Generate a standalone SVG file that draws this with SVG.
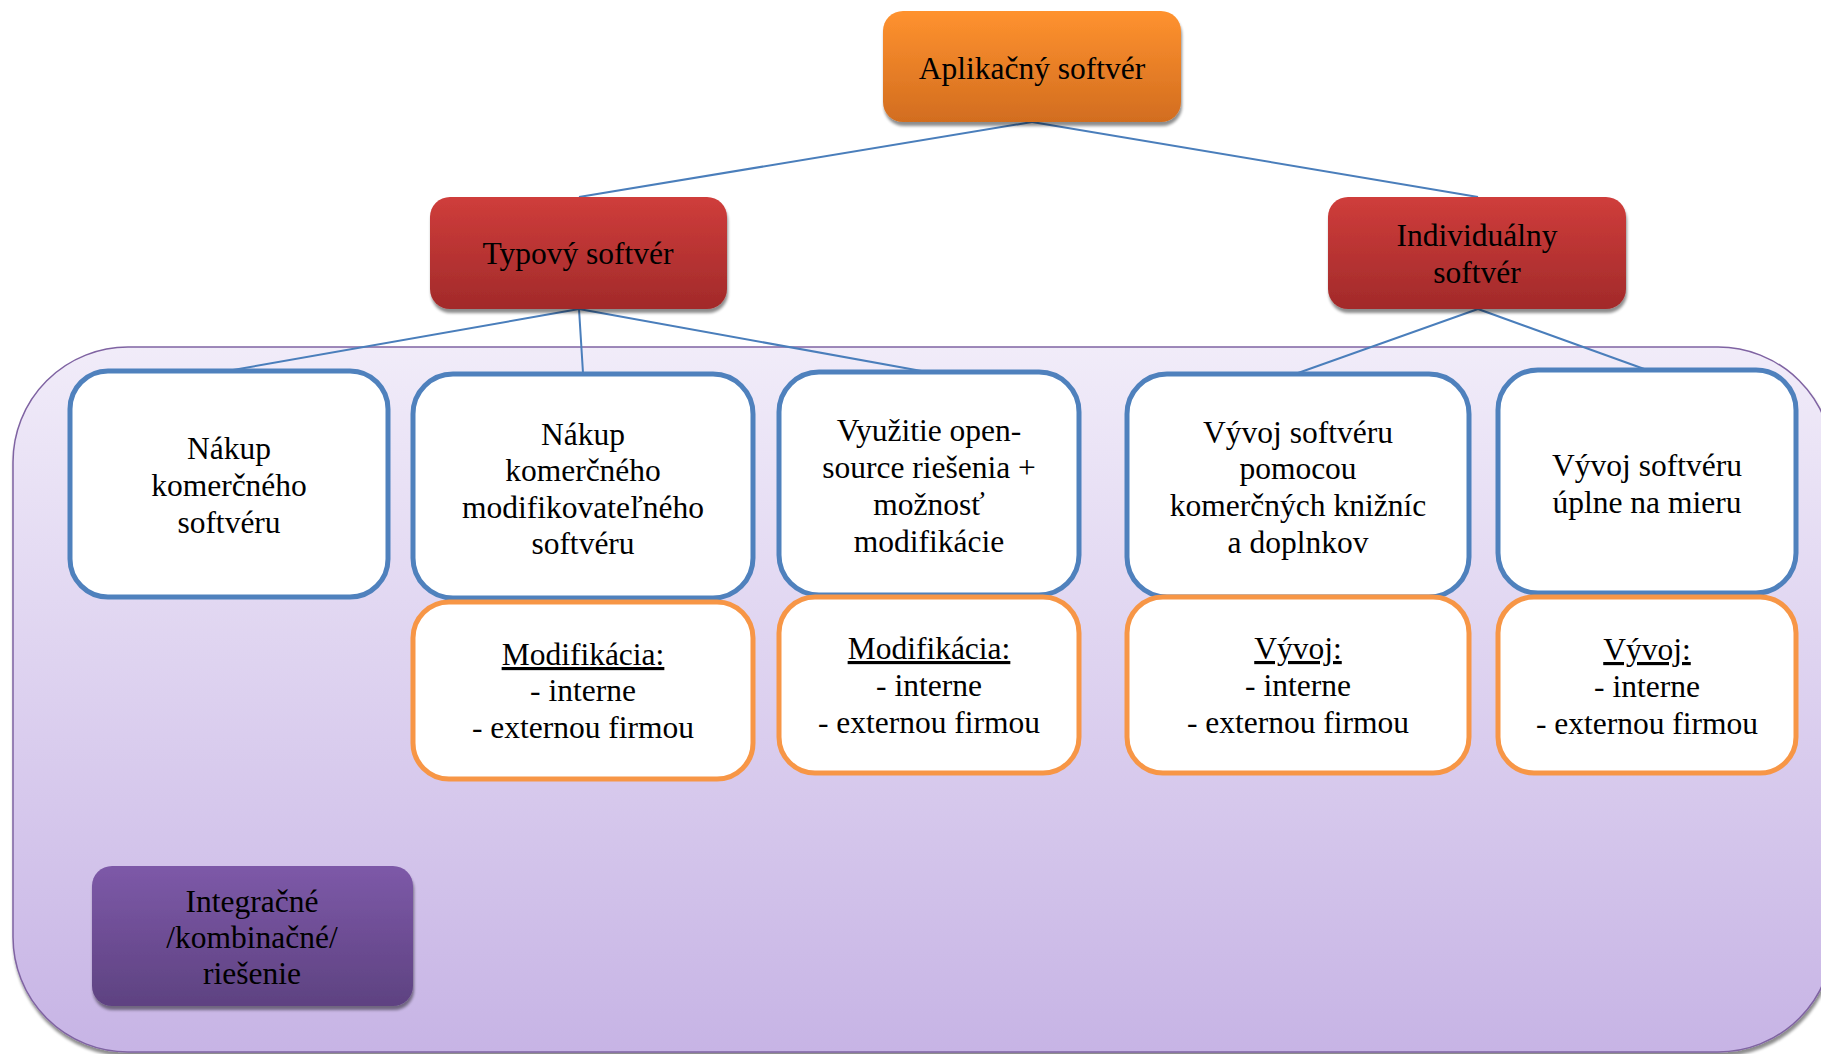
<svg xmlns="http://www.w3.org/2000/svg" width="1821" height="1054" viewBox="0 0 1821 1054">
  <defs>
    <linearGradient id="gOrange" x1="0" y1="0" x2="0" y2="1">
      <stop offset="0" stop-color="#ff922f"/>
      <stop offset="1" stop-color="#d26d1f"/>
    </linearGradient>
    <linearGradient id="gRed" x1="0" y1="0" x2="0" y2="1">
      <stop offset="0" stop-color="#cf3d3b"/>
      <stop offset="1" stop-color="#a22a2a"/>
    </linearGradient>
    <linearGradient id="gPurple" x1="0" y1="0" x2="0" y2="1">
      <stop offset="0" stop-color="#7d59a8"/>
      <stop offset="1" stop-color="#5e4281"/>
    </linearGradient>
    <linearGradient id="gPanel" x1="0" y1="0" x2="0" y2="1">
      <stop offset="0" stop-color="#f1ecf9"/>
      <stop offset="1" stop-color="#c7b4e5"/>
    </linearGradient>
    <filter id="shadow" x="-10%" y="-10%" width="120%" height="130%">
      <feGaussianBlur in="SourceAlpha" stdDeviation="1.5"/>
      <feOffset dx="1" dy="4" result="off"/>
      <feComponentTransfer><feFuncA type="linear" slope="0.45"/></feComponentTransfer>
      <feMerge><feMergeNode/><feMergeNode in="SourceGraphic"/></feMerge>
    </filter>
  </defs>
  <style>
    text { font-family: "Liberation Serif", "Times New Roman", serif; font-size: 31.5px; fill: #000; text-anchor: middle; }
    .blue { fill: #fff; stroke: #4f81bd; stroke-width: 5; }
    .orange { fill: #fff; stroke: #f79646; stroke-width: 5; }
    .conn { stroke: #4a7ebb; stroke-width: 2; fill: none; }
    .u { text-decoration: underline; }
  </style>

  <rect width="1821" height="1054" fill="#fff"/>

  <!-- background panel grouping the solution variants -->
  <g id="panel">
    <rect x="13" y="347" width="1820" height="705" rx="115" ry="115" fill="url(#gPanel)" stroke="#7f63a2" stroke-width="1.5" filter="url(#shadow)"/>
  </g>

  <!-- connectors -->
  <g id="connectors">
    <line class="conn" x1="1032" y1="122" x2="579" y2="197"/>
    <line class="conn" x1="1032" y1="122" x2="1478" y2="197"/>
    <line class="conn" x1="579" y1="309" x2="233" y2="370"/>
    <line class="conn" x1="579" y1="309" x2="583" y2="373"/>
    <line class="conn" x1="579" y1="309" x2="927" y2="372"/>
    <line class="conn" x1="1478" y1="309" x2="1298" y2="373"/>
    <line class="conn" x1="1478" y1="309" x2="1647" y2="370"/>
  </g>

  <g id="n-aplikacny">
    <rect x="883" y="11" width="298" height="111" rx="20" fill="url(#gOrange)" filter="url(#shadow)"/>
    <text x="1032" y="79">Aplikačný softvér</text>
  </g>

  <g id="n-typovy">
    <rect x="430" y="197" width="297" height="112" rx="20" fill="url(#gRed)" filter="url(#shadow)"/>
    <text x="578" y="264">Typový softvér</text>
  </g>

  <g id="n-individualny">
    <rect x="1328" y="197" width="298" height="112" rx="20" fill="url(#gRed)" filter="url(#shadow)"/>
    <text x="1477" y="246">Individuálny</text>
    <text x="1477" y="283">softvér</text>
  </g>

  <g id="n-nakup">
    <rect class="blue" x="70" y="371" width="318" height="226" rx="38"/>
    <text x="229" y="459">Nákup</text>
    <text x="229" y="496">komerčného</text>
    <text x="229" y="533">softvéru</text>
  </g>

  <g id="n-nakup-mod">
    <rect class="blue" x="413" y="374" width="340" height="224" rx="40"/>
    <text x="583" y="445">Nákup</text>
    <text x="583" y="481">komerčného</text>
    <text x="583" y="518">modifikovateľného</text>
    <text x="583" y="554">softvéru</text>
  </g>

  <g id="n-nakup-mod-detail">
    <rect class="orange" x="413" y="602" width="340" height="177" rx="36"/>
    <text x="583" y="665"><tspan class="u">Modifikácia:</tspan></text>
    <text x="583" y="701">- interne</text>
    <text x="583" y="738">- externou firmou</text>
  </g>

  <g id="n-opensource">
    <rect class="blue" x="779" y="372" width="300" height="223" rx="40"/>
    <text x="929" y="441">Využitie open-</text>
    <text x="929" y="478">source riešenia +</text>
    <text x="929" y="515">možnosť</text>
    <text x="929" y="552">modifikácie</text>
  </g>

  <g id="n-opensource-detail">
    <rect class="orange" x="779" y="597" width="300" height="176" rx="36"/>
    <text x="929" y="659"><tspan class="u">Modifikácia:</tspan></text>
    <text x="929" y="696">- interne</text>
    <text x="929" y="733">- externou firmou</text>
  </g>

  <g id="n-vyvoj-kniznice">
    <rect class="blue" x="1127" y="374" width="342" height="223" rx="40"/>
    <text x="1298" y="443">Vývoj softvéru</text>
    <text x="1298" y="479">pomocou</text>
    <text x="1298" y="516">komerčných knižníc</text>
    <text x="1298" y="553">a doplnkov</text>
  </g>

  <g id="n-vyvoj-kniznice-detail">
    <rect class="orange" x="1127" y="597" width="342" height="176" rx="36"/>
    <text x="1298" y="659"><tspan class="u">Vývoj:</tspan></text>
    <text x="1298" y="696">- interne</text>
    <text x="1298" y="733">- externou firmou</text>
  </g>

  <g id="n-vyvoj-mieru">
    <rect class="blue" x="1498" y="370" width="298" height="223" rx="40"/>
    <text x="1647" y="476">Vývoj softvéru</text>
    <text x="1647" y="513">úplne na mieru</text>
  </g>

  <g id="n-vyvoj-mieru-detail">
    <rect class="orange" x="1498" y="597" width="298" height="176" rx="36"/>
    <text x="1647" y="660"><tspan class="u">Vývoj:</tspan></text>
    <text x="1647" y="697">- interne</text>
    <text x="1647" y="734">- externou firmou</text>
  </g>

  <g id="n-integracne">
    <rect x="92" y="866" width="321" height="140" rx="20" fill="url(#gPurple)" filter="url(#shadow)"/>
    <text x="252" y="912">Integračné</text>
    <text x="252" y="948">/kombinačné/</text>
    <text x="252" y="984">riešenie</text>
  </g>
</svg>
